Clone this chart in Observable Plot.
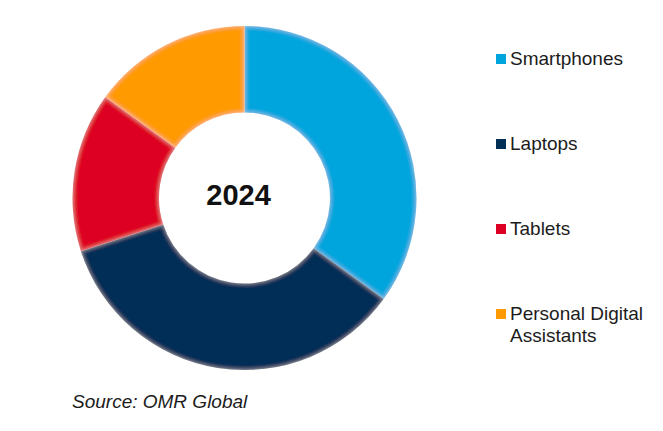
<!DOCTYPE html>
<html>
<head>
<meta charset="utf-8">
<script src="https://cdn.jsdelivr.net/npm/d3@7"></script>
<script src="https://cdn.jsdelivr.net/npm/@observablehq/plot@0.6"></script>
<style>
  html, body { margin: 0; padding: 0; background: #fff; }
  #wrap { position: relative; width: 663px; height: 431px; overflow: hidden; font-family: "Liberation Sans", Arial, sans-serif; }
  #chart { position: absolute; left: 0; top: 0; }
  #legend { position: absolute; left: 496px; top: 48px; width: 167px; }
  .item { position: relative; height: 85px; padding-left: 14px; font-size: 19px; line-height: 22px; color: #1c1c1c; }
  .sw { position: absolute; left: 0; top: 6px; width: 10px; height: 10px; }
  #source { position: absolute; left: 72px; top: 391px; font-size: 19px; line-height: 22px; font-style: italic; color: #1c1c1c; }
</style>
</head>
<body>
<div id="wrap">
  <div id="chart"></div>
  <div id="legend"></div>
  <div id="source"></div>
</div>
<script>
const categories = ["Smartphones", "Laptops", "Tablets", "Personal Digital Assistants"];
const shares = [35, 35, 15, 15];
const colors = ["#00A5DE", "#002F56", "#DD0024", "#FF9A00"];
const yearLabel = "2024";
const sourceText = "Source: OMR Global";

const data = categories.map((c, i) => ({category: c, share: shares[i]}));
const color = Plot.scale({color: {type: "ordinal", domain: categories, range: colors}});

const donut = (index, scales, values, dimensions) => {
  const cx = 244.5, cy = 198, r0 = 85.5, r1 = 172;
  const g = d3.create("svg:g");
  const defs = g.append("defs");
  const f = defs.append("filter").attr("id", "bevel").attr("x", "-10%").attr("y", "-10%").attr("width", "120%").attr("height", "120%");
  f.append("feGaussianBlur").attr("in", "SourceAlpha").attr("stdDeviation", 2.2).attr("result", "b");
  f.append("feComposite").attr("in", "SourceAlpha").attr("in2", "b").attr("operator", "out").attr("result", "edge");
  f.append("feFlood").attr("flood-color", "#ffffff").attr("flood-opacity", 0.35).attr("result", "fl");
  f.append("feComposite").attr("in", "fl").attr("in2", "edge").attr("operator", "in").attr("result", "glow");
  const m = f.append("feMerge");
  m.append("feMergeNode").attr("in", "SourceGraphic");
  m.append("feMergeNode").attr("in", "glow");

  const pie = d3.pie().sort(null).value(d => d.share).startAngle(0).endAngle(2 * Math.PI);
  const arc = d3.arc().innerRadius(r0).outerRadius(r1);
  const gg = g.append("g").attr("transform", `translate(${cx},${cy})`);
  gg.selectAll("path").data(pie(data)).join("path")
    .attr("d", arc)
    .attr("fill", d => color.apply(d.data.category))
    .attr("filter", "url(#bevel)");
  gg.append("text")
    .attr("x", -6).attr("y", 7)
    .attr("text-anchor", "middle")
    .attr("font-family", "Liberation Sans, Arial, sans-serif")
    .attr("font-weight", "bold")
    .attr("font-size", 29)
    .attr("fill", "#111")
    .text(yearLabel);
  return g.node();
};

const plot = Plot.plot({
  width: 663,
  height: 431,
  margin: 0,
  style: {background: "transparent"},
  marks: [donut]
});
document.getElementById("chart").appendChild(plot);

const legend = document.getElementById("legend");
categories.forEach((c, i) => {
  const item = document.createElement("div");
  item.className = "item";
  const sw = document.createElement("span");
  sw.className = "sw";
  sw.style.background = color.apply(c);
  item.appendChild(sw);
  item.appendChild(document.createTextNode(c));
  legend.appendChild(item);
});
document.getElementById("source").textContent = sourceText;
</script>
</body>
</html>
